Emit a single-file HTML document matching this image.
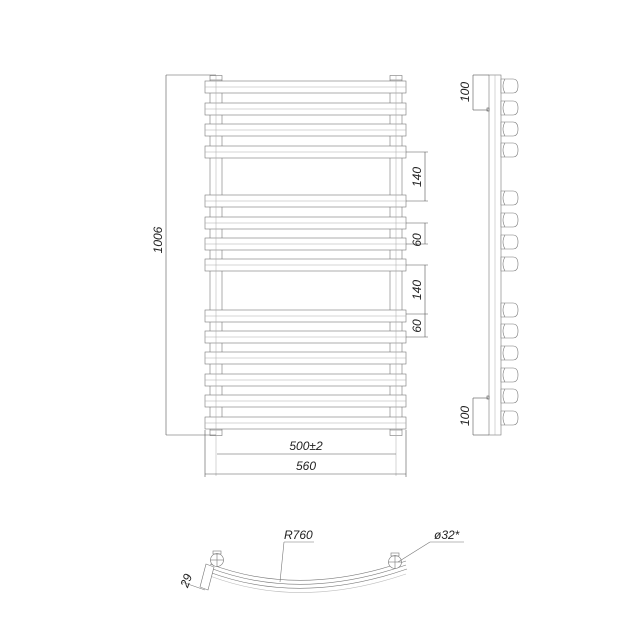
<!DOCTYPE html>
<html><head><meta charset="utf-8"><style>html,body{margin:0;padding:0;background:#fff}svg{display:block}</style></head>
<body>
<svg width="638" height="638" viewBox="0 0 638 638" xmlns="http://www.w3.org/2000/svg" font-family="Liberation Sans, sans-serif" font-style="italic" fill="none" stroke="#777" stroke-width="0.6">
<defs>
<path id="k" d="M501,0 L513,0 Q518,0 518,7 Q518,14 513,14 L501,14 Z M505,0 Q501,7 505,14"/>
</defs>
<!-- pipes -->
<rect x="210" y="75.5" width="12" height="360" fill="#fff"/>
<rect x="390" y="75.5" width="12" height="360" fill="#fff"/>
<line x1="210" y1="80" x2="222" y2="80"/><line x1="390" y1="80" x2="402" y2="80"/>
<line x1="210" y1="430" x2="222" y2="430"/><line x1="390" y1="430" x2="402" y2="430"/>
<g fill="#fff">
<rect x="205" y="81" width="201" height="12"/>
<rect x="205" y="103" width="201" height="12"/>
<rect x="205" y="124" width="201" height="12"/>
<rect x="205" y="146" width="201" height="12"/>
<rect x="205" y="195" width="201" height="12"/>
<rect x="205" y="217" width="201" height="12"/>
<rect x="205" y="238" width="201" height="12"/>
<rect x="205" y="259" width="201" height="12"/>
<rect x="205" y="310" width="201" height="12"/>
<rect x="205" y="331" width="201" height="12"/>
<rect x="205" y="352" width="201" height="12"/>
<rect x="205" y="374" width="201" height="12"/>
<rect x="205" y="395" width="201" height="12"/>
<rect x="205" y="417" width="201" height="12"/>
</g>
<g stroke="#aaa" stroke-width="0.5">
<line x1="205" y1="87" x2="406" y2="87"/><line x1="205" y1="109" x2="406" y2="109"/>
<line x1="205" y1="130" x2="406" y2="130"/><line x1="205" y1="152" x2="406" y2="152"/>
<line x1="205" y1="201" x2="406" y2="201"/><line x1="205" y1="223" x2="406" y2="223"/>
<line x1="205" y1="244" x2="406" y2="244"/><line x1="205" y1="265" x2="406" y2="265"/>
<line x1="205" y1="316" x2="406" y2="316"/><line x1="205" y1="337" x2="406" y2="337"/>
<line x1="205" y1="358" x2="406" y2="358"/><line x1="205" y1="380" x2="406" y2="380"/>
<line x1="205" y1="401" x2="406" y2="401"/><line x1="205" y1="423" x2="406" y2="423"/>
<line x1="216" y1="75" x2="216" y2="476"/><line x1="396" y1="75" x2="396" y2="476"/>
</g>
<g stroke="#555" stroke-width="0.6">
<line x1="166" y1="75" x2="216" y2="75"/><line x1="166" y1="435" x2="216" y2="435"/>
<line x1="166" y1="75" x2="166" y2="435"/>
<line x1="406" y1="152" x2="428" y2="152"/><line x1="406" y1="201" x2="428" y2="201"/><line x1="425" y1="152" x2="425" y2="201"/>
<line x1="406" y1="223" x2="428" y2="223"/><line x1="406" y1="244" x2="428" y2="244"/><line x1="425" y1="223" x2="425" y2="244"/>
<line x1="406" y1="265" x2="428" y2="265"/><line x1="425" y1="265" x2="425" y2="314"/>
<line x1="406" y1="314" x2="428" y2="314"/><line x1="406" y1="337" x2="428" y2="337"/><line x1="425" y1="314" x2="425" y2="337"/>
<line x1="205" y1="430" x2="205" y2="477"/><line x1="406" y1="430" x2="406" y2="477"/>
<line x1="217" y1="454" x2="396" y2="454"/><line x1="205" y1="474" x2="406" y2="474"/>
</g>
<g fill="#222" stroke="none" font-size="12">
<text transform="translate(162,240) rotate(-90)" text-anchor="middle">1006</text>
<text transform="translate(421,177) rotate(-90)" text-anchor="middle">140</text>
<text transform="translate(421,240) rotate(-90)" text-anchor="middle">60</text>
<text transform="translate(421,290) rotate(-90)" text-anchor="middle">140</text>
<text transform="translate(421,326) rotate(-90)" text-anchor="middle">60</text>
<text x="306" y="450" text-anchor="middle">500±2</text>
<text x="306" y="470" text-anchor="middle">560</text>
<text transform="translate(469,92) rotate(-90)" text-anchor="middle">100</text>
<text transform="translate(469,416) rotate(-90)" text-anchor="middle">100</text>
</g>
<!-- side view -->
<rect x="489" y="75" width="12" height="360" fill="#fff"/>
<line x1="495" y1="75" x2="495" y2="435" stroke="#aaa" stroke-width="0.5"/>
<g stroke="#555" stroke-width="0.6">
<line x1="473" y1="75" x2="489" y2="75"/><line x1="473" y1="75" x2="473" y2="110"/><line x1="473" y1="110" x2="488" y2="110"/>
<rect x="487" y="108" width="2" height="3"/>
<line x1="473" y1="398" x2="488" y2="398"/><line x1="473" y1="398" x2="473" y2="435"/><line x1="473" y1="435" x2="489" y2="435"/>
<rect x="487" y="396" width="2" height="3"/>
</g>
<g stroke="#777" stroke-width="0.6" fill="#fff">
<use href="#k" y="79"/><use href="#k" y="101"/><use href="#k" y="122"/><use href="#k" y="143"/>
<use href="#k" y="191"/><use href="#k" y="213"/><use href="#k" y="235"/><use href="#k" y="257"/>
<use href="#k" y="303"/><use href="#k" y="324"/><use href="#k" y="346"/><use href="#k" y="368"/>
<use href="#k" y="389"/><use href="#k" y="411"/>
</g>
<!-- bottom view -->
<g stroke="#777" stroke-width="0.6">
<path d="M210,564 Q300,598 406,561"/>
<path d="M210,568 Q300,602 406,565"/>
<path d="M209,572 Q300,606 407,569"/>
<path d="M210,576 Q300,610 406,574" stroke="#bbb"/>
<circle cx="217" cy="560" r="6.5" fill="#fff"/><line x1="210" y1="560" x2="224" y2="560"/><line x1="217" y1="553" x2="217" y2="567"/>
<rect x="213" y="551" width="8" height="3"/>
<circle cx="395" cy="562" r="6.5" fill="#fff"/><line x1="388" y1="562" x2="402" y2="562"/><line x1="395" y1="555" x2="395" y2="569"/>
<rect x="391" y="553" width="8" height="3"/>
<path d="M206,564 L214,567 L208,590 L200,587 Z" fill="#fff"/>
<line x1="182" y1="582" x2="205" y2="590"/>
<line x1="280" y1="582" x2="284" y2="542"/><line x1="284" y1="542" x2="314" y2="542"/>
<line x1="398" y1="562" x2="430" y2="542"/><line x1="430" y1="542" x2="464" y2="542"/>
</g>
<g fill="#222" stroke="none" font-size="12">
<text x="284" y="539">R760</text>
<text x="434" y="539">ø32*</text>
<text transform="translate(190,582) rotate(-70)" text-anchor="middle">29</text>
</g>
</svg>
</body></html>
